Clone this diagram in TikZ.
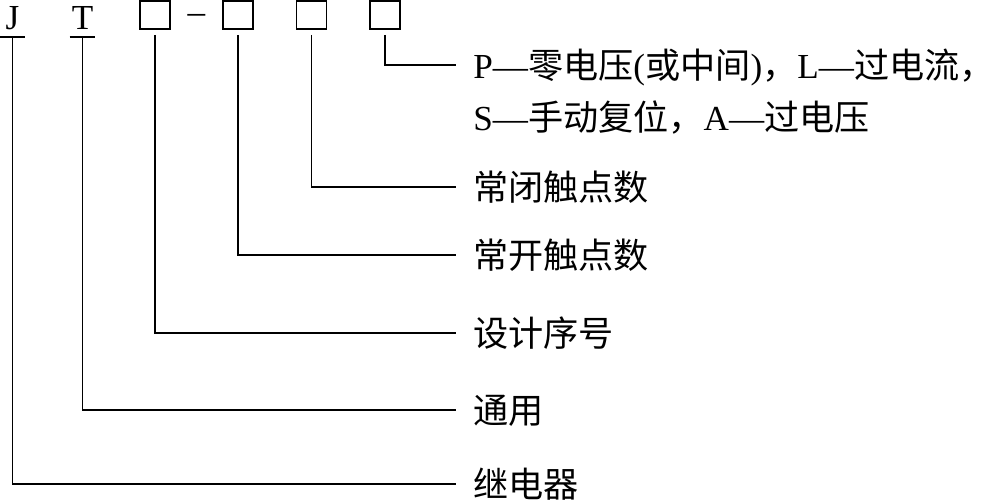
\documentclass[tikz,border=0pt]{standalone}
\usepackage{fontspec}
\setmainfont{Liberation Serif}
\newfontfamily\cjk{Noto Sans CJK SC}
\usetikzlibrary{positioning}

\begin{document}
\begin{tikzpicture}[
  x=0.02cm, y=-0.02cm,
  lead/.style={line width=1.1pt, draw=black},
  codeletter/.style={font=\fontsize{20pt}{24pt}\selectfont, minimum width=0.5cm, inner xsep=0pt, inner ysep=0.14cm, text depth=0pt, anchor=south},
  slot/.style={rectangle, draw=black, line width=1.1pt, minimum width=0.6cm, minimum height=0.56cm, inner sep=0pt},
  desc/.style={anchor=base west, inner xsep=0.34cm, inner ysep=0pt, text height=17pt, text depth=1.8pt, font=\fontsize{20pt}{24pt}\selectfont\cjk}
]
  \useasboundingbox (0,0) rectangle (993,500);

  % Model code: J T [] - [] [] []
  \node[codeletter] (J) at (12.5,37) {J};
  \node[codeletter] (T) at (82.5,37) {T};
  \node[slot] (box1) at (155,15) {};
  \node[font=\fontsize{20pt}{24pt}\selectfont, inner sep=0pt, text height=7pt, text depth=0pt, anchor=base] (hyph) at (196.5,24) {--};
  \node[slot] (box2) at (238,15) {};
  \node[slot] (box3) at (311.5,15) {};
  \node[slot] (box4) at (385,15) {};

  % Meanings
  \node[desc] (descP) at (456,78.4) {{\rmfamily P—}零电压{\rmfamily (}或中间{\rmfamily )}，{\rmfamily L—}过电流，};
  \node[desc] (descS) at (456,130.4) {{\rmfamily S—}手动复位，{\rmfamily A—}过电压};
  \node[desc] (closed) at (456,200.4) {常闭触点数};
  \node[desc] (open) at (456,268.4) {常开触点数};
  \node[desc] (design) at (456,346.4) {设计序号};
  \node[desc] (general) at (456,423.4) {通用};
  \node[desc] (relay) at (456,497.4) {继电器};

  % Leaders
  \draw[lead] (J.south west) -- (J.south east);
  \draw[lead] (T.south west) -- (T.south east);
  \draw[lead] (J.south) |- (relay.west);
  \draw[lead] (T.south) |- (general.west);
  \draw[lead, shorten <=0.1cm] (box1) |- (design.west);
  \draw[lead, shorten <=0.1cm] (box2) |- (open.west);
  \draw[lead, shorten <=0.1cm] (box3) |- (closed.west);
  \draw[lead, shorten <=0.1cm] (box4) |- (descP.west);
\end{tikzpicture}
\end{document}
